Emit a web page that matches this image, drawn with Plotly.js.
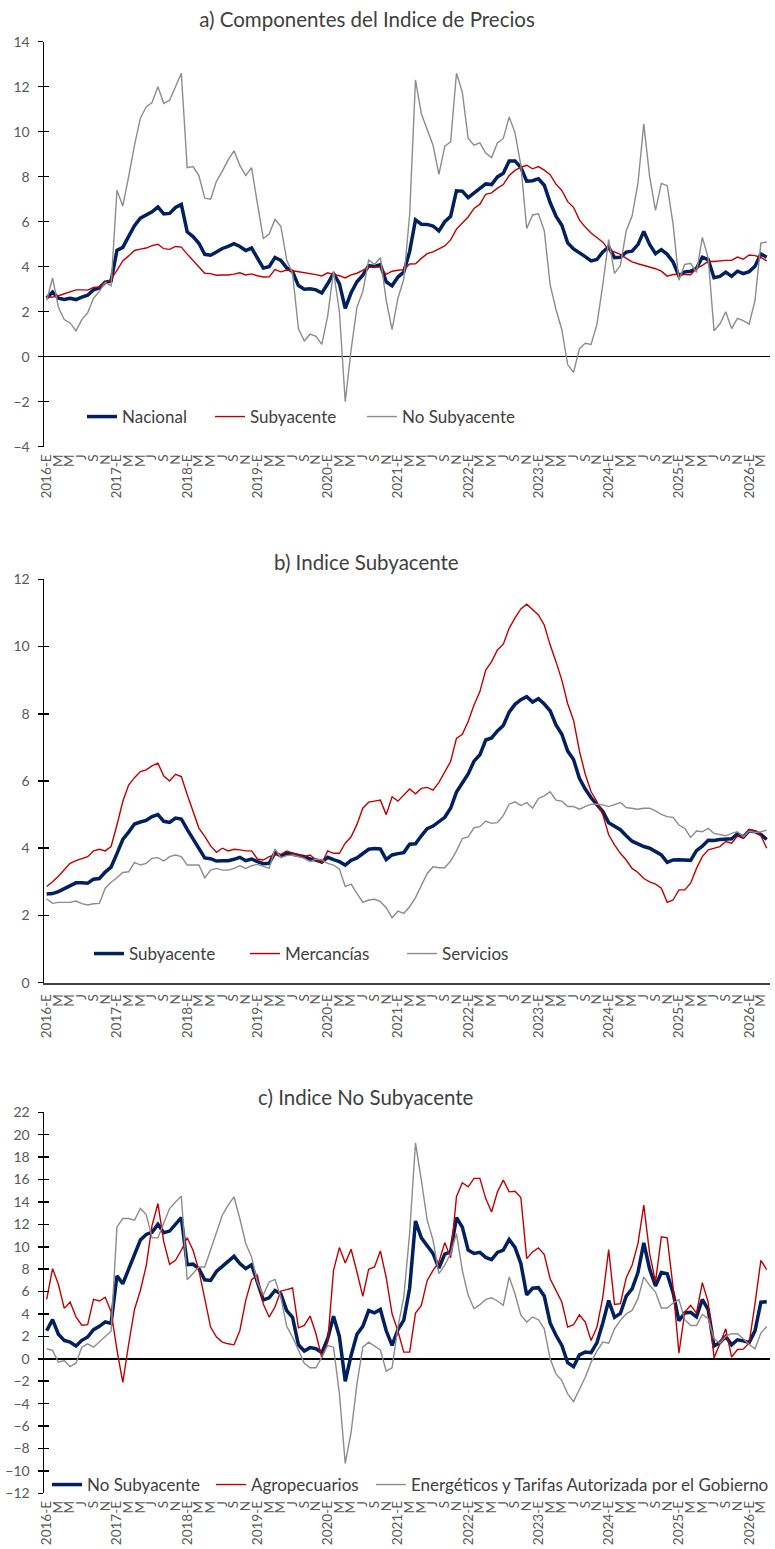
<!DOCTYPE html>
<html>
<head>
<meta charset="utf-8">
<script src="https://cdn.plot.ly/plotly-3.0.1.min.js"></script>
<style>
html,body{margin:0;padding:0;background:#fff;}
#chart{width:775px;height:1549px;}
</style>
</head>
<body>
<div id="chart"></div>
<script>
// ---- Data (annual % change, monthly, Jan-2016 .. Apr-2026) ----
const startYear = 2016;
const monthInitials = ['E','F','M','A','M','J','J','A','S','O','N','D'];

const nacional = [
  2.61,2.87,2.60,2.54,2.60,2.54,2.65,2.73,2.97,3.06,3.31,3.36,
  4.72,4.86,5.35,5.82,6.16,6.31,6.44,6.66,6.35,6.37,6.63,6.77,
  5.55,5.34,5.04,4.55,4.51,4.65,4.81,4.90,5.02,4.90,4.72,4.83,
  4.37,3.94,4.00,4.41,4.28,3.95,3.78,3.16,3.00,3.02,2.97,2.83,
  3.24,3.70,3.25,2.15,2.84,3.33,3.62,4.05,4.01,4.09,3.33,3.15,
  3.54,3.76,4.67,6.08,5.89,5.88,5.81,5.59,6.00,6.24,7.37,7.36,
  7.07,7.28,7.45,7.68,7.65,7.99,8.15,8.70,8.70,8.41,7.80,7.82,
  7.91,7.62,6.85,6.25,5.84,5.06,4.79,4.64,4.45,4.26,4.32,4.66,
  4.88,4.40,4.42,4.65,4.69,4.98,5.57,4.99,4.58,4.76,4.55,4.21,
  3.59,3.77,3.80,3.93,4.42,4.32,3.51,3.57,3.76,3.57,3.80,3.69,
  3.78,4.02,4.57,4.42
];
const subyacente = [
  2.64,2.65,2.71,2.80,2.88,2.97,2.97,2.96,3.08,3.10,3.29,3.44,
  3.84,4.26,4.48,4.72,4.78,4.83,4.94,5.00,4.80,4.77,4.90,4.87,
  4.56,4.27,4.02,3.71,3.69,3.62,3.63,3.63,3.67,3.73,3.63,3.68,
  3.60,3.54,3.55,3.87,3.77,3.85,3.82,3.78,3.75,3.68,3.65,3.59,
  3.73,3.66,3.60,3.50,3.64,3.71,3.85,3.97,3.99,3.98,3.66,3.80,
  3.84,3.87,4.12,4.13,4.37,4.58,4.66,4.78,4.92,5.19,5.67,5.94,
  6.21,6.59,6.78,7.22,7.28,7.49,7.65,8.05,8.28,8.42,8.51,8.35,
  8.45,8.29,8.09,7.67,7.39,6.89,6.64,6.08,5.76,5.50,5.30,5.09,
  4.76,4.64,4.55,4.37,4.21,4.13,4.05,4.00,3.91,3.80,3.58,3.65,
  3.66,3.65,3.64,3.93,4.06,4.24,4.23,4.26,4.28,4.28,4.43,4.33,
  4.52,4.49,4.41,4.26
];
const noSubyacente = [
  2.5,3.5,2.2,1.65,1.5,1.15,1.65,1.95,2.6,2.9,3.3,3.15,
  7.4,6.7,8.0,9.4,10.6,11.1,11.3,12.0,11.25,11.4,12.0,12.6,
  8.4,8.45,8.05,7.05,7.0,7.8,8.25,8.75,9.15,8.5,8.05,8.4,
  6.8,5.25,5.45,6.1,5.8,4.3,3.7,1.25,0.7,1.0,0.9,0.55,
  1.8,3.8,2.0,-2.0,0.3,2.2,2.9,4.3,4.1,4.4,2.5,1.2,
  2.6,3.45,6.3,12.3,10.8,10.1,9.4,8.1,9.35,9.55,12.6,11.75,
  9.7,9.4,9.5,9.05,8.85,9.5,9.7,10.65,9.95,8.5,5.7,6.3,
  6.35,5.6,3.2,2.1,1.2,-0.35,-0.7,0.35,0.6,0.55,1.45,3.2,
  5.2,3.7,4.05,5.6,6.25,7.7,10.35,8.0,6.5,7.7,7.6,5.9,
  3.4,4.1,4.15,3.75,5.3,4.4,1.15,1.45,2.0,1.25,1.7,1.6,
  1.45,2.5,5.05,5.1
];
const mercancias = [
  2.86,3.0,3.17,3.35,3.55,3.63,3.7,3.75,3.92,3.97,3.92,4.05,
  4.69,5.39,5.88,6.1,6.28,6.33,6.45,6.53,6.15,6.0,6.2,6.13,
  5.6,5.1,4.6,4.35,4.07,3.88,4.0,3.92,3.97,3.95,3.92,3.92,
  3.68,3.65,3.75,3.8,3.82,3.92,3.85,3.8,3.75,3.8,3.65,3.55,
  3.92,3.85,3.85,4.15,4.34,4.71,5.19,5.37,5.4,5.43,5.0,5.53,
  5.4,5.58,5.76,5.62,5.78,5.81,5.73,5.96,6.25,6.58,7.27,7.39,
  7.77,8.26,8.66,9.3,9.55,9.9,10.07,10.54,10.85,11.12,11.26,11.09,
  10.94,10.64,10.05,9.55,9.0,8.3,7.81,6.9,6.2,5.68,5.39,5.0,
  4.4,4.1,3.85,3.65,3.4,3.28,3.1,3.0,2.93,2.81,2.39,2.46,
  2.76,2.76,2.96,3.4,3.75,3.95,4.0,4.05,4.2,4.15,4.36,4.29,
  4.56,4.51,4.37,4.0
];
const servicios = [
  2.49,2.36,2.39,2.39,2.39,2.43,2.35,2.31,2.35,2.36,2.81,2.99,
  3.12,3.28,3.3,3.58,3.5,3.55,3.7,3.72,3.62,3.75,3.8,3.75,
  3.5,3.5,3.5,3.12,3.35,3.4,3.35,3.35,3.4,3.48,3.4,3.48,
  3.52,3.46,3.4,3.98,3.72,3.78,3.8,3.75,3.7,3.6,3.68,3.65,
  3.55,3.5,3.38,2.86,2.93,2.66,2.39,2.46,2.48,2.41,2.23,1.93,
  2.13,2.06,2.26,2.53,2.91,3.25,3.45,3.42,3.42,3.62,3.92,4.29,
  4.34,4.61,4.64,4.81,4.74,4.76,4.97,5.31,5.38,5.27,5.36,5.19,
  5.48,5.56,5.68,5.43,5.4,5.24,5.24,5.16,5.24,5.31,5.31,5.29,
  5.24,5.29,5.36,5.21,5.19,5.16,5.19,5.19,5.11,5.01,4.94,4.92,
  4.69,4.59,4.32,4.51,4.49,4.59,4.44,4.41,4.37,4.44,4.49,4.34,
  4.51,4.47,4.49,4.54
];
const agropecuarios = [
  5.3,8.05,6.65,4.5,5.07,3.75,3.0,3.05,5.3,5.16,5.5,4.2,
  0.8,-2.1,1.3,4.4,6.1,8.3,11.9,13.86,10.43,8.44,8.79,9.69,
  10.8,9.69,7.9,5.2,2.83,1.94,1.49,1.34,1.25,2.53,5.22,7.06,
  7.45,4.9,3.73,4.62,6.05,6.17,6.32,2.77,2.98,3.82,2.24,0.09,
  1.49,7.9,9.93,8.55,9.78,7.75,5.57,7.99,8.2,9.63,7.24,4.02,
  2.47,0.6,0.6,4.08,4.77,7.0,7.9,8.64,10.37,9.03,14.46,15.71,
  15.35,16.1,16.1,14.3,13.1,14.9,15.95,14.9,14.96,14.4,8.94,9.54,
  9.9,9.3,7.15,6.11,5.07,2.83,3.04,3.93,3.28,1.64,2.83,5.51,
  9.75,4.86,4.92,7.24,8.35,10.28,13.71,9.39,6.86,10.88,10.79,6.41,
  0.5,4.17,4.77,4.08,6.8,5.07,0.09,1.34,2.68,0.15,0.83,0.86,
  1.43,4.92,8.79,7.96
];
const energeticos = [
  0.9,0.75,-0.3,-0.15,-0.69,-0.39,1.04,1.34,1.04,1.49,1.94,2.47,
  11.77,12.52,12.52,12.37,13.41,12.88,10.79,10.79,12.13,13.41,14.0,14.5,
  7.06,7.6,8.2,8.2,9.69,11.33,12.82,13.71,14.46,12.5,10.3,9.1,
  6.8,5.7,6.86,7.09,5.5,2.9,1.94,0.8,-0.4,-0.8,-0.8,0.15,
  1.19,1.04,-3.13,-9.33,-6.56,-2.24,1.04,1.49,1.13,0.8,-1.1,-0.8,
  2.83,5.51,11.18,19.28,15.95,12.37,10.58,7.6,8.35,9.39,11.18,7.9,
  5.66,4.47,4.83,5.3,5.45,5.16,4.77,7.3,5.81,3.9,3.28,3.73,
  3.49,2.68,0.0,-1.34,-1.94,-3.13,-3.82,-2.68,-1.64,-0.3,0.69,1.49,
  1.4,2.68,3.43,4.02,4.32,5.37,7.3,6.56,5.96,4.53,4.53,4.98,
  5.28,3.49,2.98,2.98,3.96,3.58,1.79,1.4,2.0,2.24,2.24,1.79,
  1.28,0.89,2.3,2.89
];

// ---- x positions & tick labels ----
const N = nacional.length;
const idx = Array.from({length:N}, (_, i) => i);
const tickVals = idx.filter(i => i % 2 === 0);
const tickText = tickVals.map(i => (i % 12 === 0) ? (startYear + i/12) + '-E' : monthInitials[i % 12]);

// ---- styling ----
const FONT = 'Lato, "Open Sans", "Noto Sans", sans-serif';
const NAVY = '#002060', RED = '#C00000', GRAY = '#8c8c8c';
const W = 775, H = 1549;
const px = v => v / W;
const py = v => 1 - v / H;

function line(name, y, color, width, xa, ya, leg) {
  return {x: idx, y: y, name: name, type: 'scatter', mode: 'lines',
          line: {color: color, width: width}, xaxis: xa, yaxis: ya,
          legend: leg, hoverinfo: 'skip'};
}

const traces = [
  line('Nacional', nacional, NAVY, 3.5, 'x', 'y', 'legend'),
  line('Subyacente', subyacente, RED, 1.4, 'x', 'y', 'legend2'),
  line('No Subyacente', noSubyacente, GRAY, 1.4, 'x', 'y', 'legend3'),
  line('Subyacente', subyacente, NAVY, 3.5, 'x2', 'y2', 'legend4'),
  line('Mercancías', mercancias, RED, 1.4, 'x2', 'y2', 'legend5'),
  line('Servicios', servicios, GRAY, 1.4, 'x2', 'y2', 'legend6'),
  line('No Subyacente', noSubyacente, NAVY, 3.5, 'x3', 'y3', 'legend7'),
  line('Agropecuarios', agropecuarios, RED, 1.4, 'x3', 'y3', 'legend8'),
  line('Energéticos y Tarifas Autorizada por el Gobierno', energeticos, GRAY, 1.4, 'x3', 'y3', 'legend9'),
  // empty helpers so the inner tick axes get drawn
  {x: [], y: [], xaxis: 'x', yaxis: 'y4', showlegend: false, type: 'scatter'},
  {x: [], y: [], xaxis: 'x2', yaxis: 'y5', showlegend: false, type: 'scatter'},
  {x: [], y: [], xaxis: 'x3', yaxis: 'y6', showlegend: false, type: 'scatter'}
];

const xDomain = [px(44), px(770)];
const xRange = [-0.46, N - 1 + 0.56];

function xaxis(anchor, showline) {
  return {domain: xDomain, range: xRange, anchor: anchor, autorange: false,
          tickmode: 'array', tickvals: tickVals, ticktext: tickText,
          tickangle: -90, ticks: '', showgrid: false, zeroline: false,
          showline: showline, linecolor: '#404040', linewidth: 2,
          ticklabelstandoff: 4,
          tickfont: {family: FONT, size: 13.5, color: '#595959'}};
}
function yaxis(anchor, dom, range, zl) {
  return {domain: dom, range: range, autorange: false, anchor: anchor, dtick: 2,
          showgrid: false, showline: true, linecolor: '#000', linewidth: 1.5,
          ticks: 'outside', ticklen: 5, tickwidth: 1.5, tickcolor: '#000',
          ticklabelstandoff: 5,
          zeroline: zl, zerolinecolor: '#000', zerolinewidth: 1.5,
          tickfont: {family: FONT, size: 14, color: '#595959'}};
}
function innerTicks(over, range) {
  return {overlaying: over, range: range, autorange: false, anchor: over === 'y' ? 'x' : (over === 'y2' ? 'x2' : 'x3'),
          dtick: 2, ticks: 'inside', ticklen: 5, tickwidth: 1.5, tickcolor: '#000',
          showticklabels: false, showline: false, showgrid: false, zeroline: false};
}

const domA = [py(446.7), py(41.7)];
const domB = [py(982.7), py(579.3)];
const domC = [py(1493.3), py(1112.3)];
const rA = [-4, 14], rB = [0, 12], rC = [-12, 22];

function leg(lineStartPx, yPx) {
  return {x: px(lineStartPx - 5), y: py(yPx), xanchor: 'left', yanchor: 'middle',
          orientation: 'h', bgcolor: 'rgba(0,0,0,0)', borderwidth: 0,
          font: {family: FONT, size: 17, color: '#404040'}};
}

const TITLE_FONT = {family: FONT, size: 20.5, color: '#404040'};

const layout = {
  width: W, height: H,
  margin: {l: 0, r: 0, t: 0, b: 0},
  paper_bgcolor: '#fff', plot_bgcolor: '#fff',
  font: {family: FONT},
  title: {text: 'a) Componentes del Indice de Precios', x: px(367), xanchor: 'center',
          xref: 'paper', y: py(20), yref: 'paper', yanchor: 'middle',
          font: TITLE_FONT},
  xaxis: xaxis('y', false),
  xaxis2: xaxis('y2', true),
  xaxis3: xaxis('y3', false),
  yaxis: yaxis('x', domA, rA, true),
  yaxis2: yaxis('x2', domB, rB, false),
  yaxis3: yaxis('x3', domC, rC, true),
  yaxis4: innerTicks('y', rA),
  yaxis5: innerTicks('y2', rB),
  yaxis6: innerTicks('y3', rC),
  legend: leg(87, 417), legend2: leg(215, 417), legend3: leg(367, 417),
  legend4: leg(94, 954), legend5: leg(250, 954), legend6: leg(407, 954),
  legend7: leg(52, 1485), legend8: leg(216, 1485), legend9: leg(376, 1485),
  annotations: [
    {text: 'b) Indice Subyacente', xref: 'paper', yref: 'paper', x: px(366), y: py(561.7),
     xanchor: 'center', yanchor: 'middle', showarrow: false, font: TITLE_FONT},
    {text: 'c) Indice No Subyacente', xref: 'paper', yref: 'paper', x: px(366), y: py(1097),
     xanchor: 'center', yanchor: 'middle', showarrow: false, font: TITLE_FONT}
  ],
  showlegend: true
};

Plotly.newPlot('chart', traces, layout, {staticPlot: true, displayModeBar: false});
</script>
</body>
</html>
